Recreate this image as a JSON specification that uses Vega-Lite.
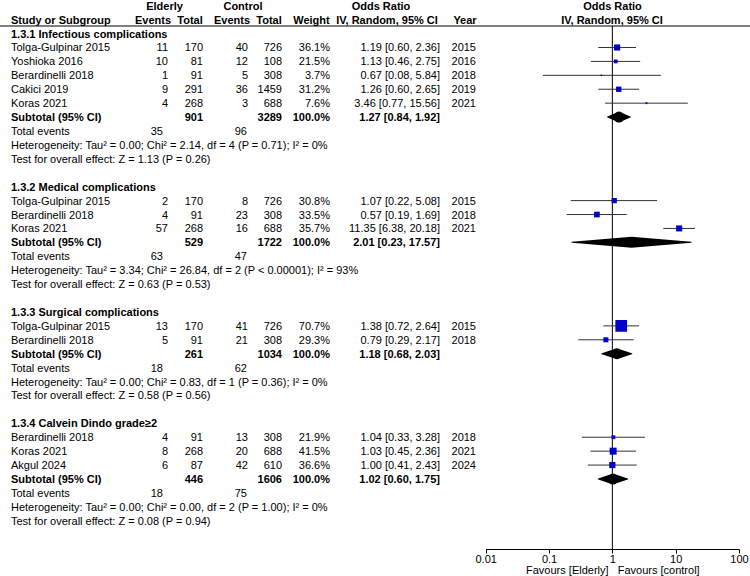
{
  "$schema": "https://vega.github.io/schema/vega-lite/v6.json",
  "width": 750,
  "height": 549,
  "autosize": {"type": "none"},
  "padding": {"left": 0, "top": 0, "right": 0, "bottom": 27},
  "background": "white",
  "config": {
    "view": {"stroke": null},
    "text": {"font": "Liberation Sans", "fontSize": 11, "color": "#000", "baseline": "middle", "dy": 1}
  },
  "datasets": {
    "studies": [
      {"sub": "1.3.1", "row": 3, "study": "Tolga-Gulpinar 2015", "ee": 11, "et": 170, "ce": 40, "ct": 726, "w": 0.361, "est": 1.19, "lo": 0.60, "hi": 2.36, "ci": "1.19 [0.60, 2.36]", "year": 2015},
      {"sub": "1.3.1", "row": 4, "study": "Yoshioka 2016", "ee": 10, "et": 81, "ce": 12, "ct": 108, "w": 0.215, "est": 1.13, "lo": 0.46, "hi": 2.75, "ci": "1.13 [0.46, 2.75]", "year": 2016},
      {"sub": "1.3.1", "row": 5, "study": "Berardinelli 2018", "ee": 1, "et": 91, "ce": 5, "ct": 308, "w": 0.037, "est": 0.67, "lo": 0.08, "hi": 5.84, "ci": "0.67 [0.08, 5.84]", "year": 2018},
      {"sub": "1.3.1", "row": 6, "study": "Cakici 2019", "ee": 9, "et": 291, "ce": 36, "ct": 1459, "w": 0.312, "est": 1.26, "lo": 0.60, "hi": 2.65, "ci": "1.26 [0.60, 2.65]", "year": 2019},
      {"sub": "1.3.1", "row": 7, "study": "Koras 2021", "ee": 4, "et": 268, "ce": 3, "ct": 688, "w": 0.076, "est": 3.46, "lo": 0.77, "hi": 15.56, "ci": "3.46 [0.77, 15.56]", "year": 2021},
      {"sub": "1.3.2", "row": 14, "study": "Tolga-Gulpinar 2015", "ee": 2, "et": 170, "ce": 8, "ct": 726, "w": 0.308, "est": 1.07, "lo": 0.22, "hi": 5.08, "ci": "1.07 [0.22, 5.08]", "year": 2015},
      {"sub": "1.3.2", "row": 15, "study": "Berardinelli 2018", "ee": 4, "et": 91, "ce": 23, "ct": 308, "w": 0.335, "est": 0.57, "lo": 0.19, "hi": 1.69, "ci": "0.57 [0.19, 1.69]", "year": 2018},
      {"sub": "1.3.2", "row": 16, "study": "Koras 2021", "ee": 57, "et": 268, "ce": 16, "ct": 688, "w": 0.357, "est": 11.35, "lo": 6.38, "hi": 20.18, "ci": "11.35 [6.38, 20.18]", "year": 2021},
      {"sub": "1.3.3", "row": 23, "study": "Tolga-Gulpinar 2015", "ee": 13, "et": 170, "ce": 41, "ct": 726, "w": 0.707, "est": 1.38, "lo": 0.72, "hi": 2.64, "ci": "1.38 [0.72, 2.64]", "year": 2015},
      {"sub": "1.3.3", "row": 24, "study": "Berardinelli 2018", "ee": 5, "et": 91, "ce": 21, "ct": 308, "w": 0.293, "est": 0.79, "lo": 0.29, "hi": 2.17, "ci": "0.79 [0.29, 2.17]", "year": 2018},
      {"sub": "1.3.4", "row": 31, "study": "Berardinelli 2018", "ee": 4, "et": 91, "ce": 13, "ct": 308, "w": 0.219, "est": 1.04, "lo": 0.33, "hi": 3.28, "ci": "1.04 [0.33, 3.28]", "year": 2018},
      {"sub": "1.3.4", "row": 32, "study": "Koras 2021", "ee": 8, "et": 268, "ce": 20, "ct": 688, "w": 0.415, "est": 1.03, "lo": 0.45, "hi": 2.36, "ci": "1.03 [0.45, 2.36]", "year": 2021},
      {"sub": "1.3.4", "row": 33, "study": "Akgul 2024", "ee": 6, "et": 87, "ce": 42, "ct": 610, "w": 0.366, "est": 1.00, "lo": 0.41, "hi": 2.43, "ci": "1.00 [0.41, 2.43]", "year": 2024}
    ],
    "subtotals": [
      {"sub": "1.3.1", "row": 8, "label": "Subtotal (95% CI)", "et": 901, "ct": 3289, "w": 1, "est": 1.27, "lo": 0.84, "hi": 1.92, "ci": "1.27 [0.84, 1.92]"},
      {"sub": "1.3.2", "row": 17, "label": "Subtotal (95% CI)", "et": 529, "ct": 1722, "w": 1, "est": 2.01, "lo": 0.23, "hi": 17.57, "ci": "2.01 [0.23, 17.57]"},
      {"sub": "1.3.3", "row": 25, "label": "Subtotal (95% CI)", "et": 261, "ct": 1034, "w": 1, "est": 1.18, "lo": 0.68, "hi": 2.03, "ci": "1.18 [0.68, 2.03]"},
      {"sub": "1.3.4", "row": 34, "label": "Subtotal (95% CI)", "et": 446, "ct": 1606, "w": 1, "est": 1.02, "lo": 0.60, "hi": 1.75, "ci": "1.02 [0.60, 1.75]"}
    ],
    "events": [
      {"row": 9, "ee": 35, "ce": 96},
      {"row": 18, "ee": 63, "ce": 47},
      {"row": 26, "ee": 18, "ce": 62},
      {"row": 35, "ee": 18, "ce": 75}
    ],
    "sections": [
      {"row": 2, "text": "1.3.1 Infectious complications"},
      {"row": 13, "text": "1.3.2 Medical complications"},
      {"row": 22, "text": "1.3.3 Surgical complications"},
      {"row": 30, "text": "1.3.4 Calvein Dindo grade≥2"}
    ],
    "notes": [
      {"row": 9, "text": "Total events"},
      {"row": 10, "text": "Heterogeneity: Tau² = 0.00; Chi² = 2.14, df = 4 (P = 0.71); I² = 0%"},
      {"row": 11, "text": "Test for overall effect: Z = 1.13 (P = 0.26)"},
      {"row": 18, "text": "Total events"},
      {"row": 19, "text": "Heterogeneity: Tau² = 3.34; Chi² = 26.84, df = 2 (P < 0.00001); I² = 93%"},
      {"row": 20, "text": "Test for overall effect: Z = 0.63 (P = 0.53)"},
      {"row": 26, "text": "Total events"},
      {"row": 27, "text": "Heterogeneity: Tau² = 0.00; Chi² = 0.83, df = 1 (P = 0.36); I² = 0%"},
      {"row": 28, "text": "Test for overall effect: Z = 0.58 (P = 0.56)"},
      {"row": 35, "text": "Total events"},
      {"row": 36, "text": "Heterogeneity: Tau² = 0.00; Chi² = 0.00, df = 2 (P = 1.00); I² = 0%"},
      {"row": 37, "text": "Test for overall effect: Z = 0.08 (P = 0.94)"}
    ]
  },
  "layer": [
    {
      "layer": [
        {"data": {"values": [{}]}, "mark": {"type": "rule", "color": "#000", "strokeWidth": 1},
         "encoding": {"x": {"value": 0}, "x2": {"value": 750},
           "y": {"datum": 1.455, "type": "quantitative", "scale": {"domain": [-0.412, 39.03], "reverse": true, "nice": false, "zero": false}, "axis": null}}},
        {"data": {"values": [{}]}, "mark": {"type": "rule", "color": "#000", "strokeWidth": 1},
         "encoding": {
           "x": {"datum": 1, "type": "quantitative", "scale": {"type": "log", "domain": [0.01, 100], "range": [485.7, 739], "nice": false, "zero": false},
                 "axis": {"values": [0.01, 0.1, 1, 10, 100], "format": "~g", "title": "Favours [Elderly]\u00a0\u00a0\u00a0Favours [control]", "grid": false, "domainColor": "#000", "tickColor": "#000", "tickSize": 4, "labelFont": "Liberation Sans", "labelFontSize": 11, "labelColor": "#000", "labelPadding": 0, "labelFlush": false, "labelOverlap": false, "titleFont": "Liberation Sans", "titleFontSize": 11, "titleFontWeight": "normal", "titleColor": "#000", "titlePadding": 0}},
           "y": {"datum": 1.455, "type": "quantitative", "scale": {"domain": [-0.412, 39.03], "reverse": true, "nice": false, "zero": false}, "axis": null},
           "y2": {"datum": 39.03}
         }}
      ]
    },
    {
      "encoding": {
        "y": {"field": "row", "type": "quantitative", "scale": {"domain": [-0.412, 39.03], "reverse": true, "nice": false, "zero": false}, "axis": null}
      },
      "layer": [
        {"data": {"values": [{"row": 0, "t": "Elderly"}]}, "mark": {"type": "text", "align": "center", "fontWeight": "bold"}, "encoding": {"x": {"value": 164.5}, "text": {"field": "t"}}},
        {"data": {"values": [{"row": 0, "t": "Control"}]}, "mark": {"type": "text", "align": "center", "fontWeight": "bold"}, "encoding": {"x": {"value": 243}, "text": {"field": "t"}}},
        {"data": {"values": [{"row": 0, "t": "Odds Ratio"}]}, "mark": {"type": "text", "align": "center", "fontWeight": "bold"}, "encoding": {"x": {"value": 381}, "text": {"field": "t"}}},
        {"data": {"values": [{"row": 0, "t": "Odds Ratio"}]}, "mark": {"type": "text", "align": "center", "fontWeight": "bold"}, "encoding": {"x": {"value": 612.5}, "text": {"field": "t"}}},
        {"data": {"values": [{"row": 1, "t": "Study or Subgroup"}]}, "mark": {"type": "text", "align": "left", "fontWeight": "bold"}, "encoding": {"x": {"value": 11}, "text": {"field": "t"}}},
        {"data": {"values": [{"row": 1, "t": "Events"}]}, "mark": {"type": "text", "align": "center", "fontWeight": "bold"}, "encoding": {"x": {"value": 153}, "text": {"field": "t"}}},
        {"data": {"values": [{"row": 1, "t": "Total"}]}, "mark": {"type": "text", "align": "center", "fontWeight": "bold"}, "encoding": {"x": {"value": 190}, "text": {"field": "t"}}},
        {"data": {"values": [{"row": 1, "t": "Events"}]}, "mark": {"type": "text", "align": "center", "fontWeight": "bold"}, "encoding": {"x": {"value": 232}, "text": {"field": "t"}}},
        {"data": {"values": [{"row": 1, "t": "Total"}]}, "mark": {"type": "text", "align": "center", "fontWeight": "bold"}, "encoding": {"x": {"value": 269}, "text": {"field": "t"}}},
        {"data": {"values": [{"row": 1, "t": "Weight"}]}, "mark": {"type": "text", "align": "center", "fontWeight": "bold"}, "encoding": {"x": {"value": 311.5}, "text": {"field": "t"}}},
        {"data": {"values": [{"row": 1, "t": "IV, Random, 95% CI"}]}, "mark": {"type": "text", "align": "center", "fontWeight": "bold"}, "encoding": {"x": {"value": 387}, "text": {"field": "t"}}},
        {"data": {"values": [{"row": 1, "t": "Year"}]}, "mark": {"type": "text", "align": "center", "fontWeight": "bold"}, "encoding": {"x": {"value": 465}, "text": {"field": "t"}}},
        {"data": {"values": [{"row": 1, "t": "IV, Random, 95% CI"}]}, "mark": {"type": "text", "align": "center", "fontWeight": "bold"}, "encoding": {"x": {"value": 612}, "text": {"field": "t"}}},

        {"data": {"name": "sections"}, "mark": {"type": "text", "align": "left", "fontWeight": "bold"}, "encoding": {"x": {"value": 11}, "text": {"field": "text"}}},
        {"data": {"name": "notes"}, "mark": {"type": "text", "align": "left"}, "encoding": {"x": {"value": 11}, "text": {"field": "text"}}},

        {"data": {"name": "studies"}, "mark": {"type": "text", "align": "left"}, "encoding": {"x": {"value": 11}, "text": {"field": "study"}}},
        {"data": {"name": "studies"}, "mark": {"type": "text", "align": "right"}, "encoding": {"x": {"value": 168}, "text": {"field": "ee", "type": "nominal"}}},
        {"data": {"name": "studies"}, "mark": {"type": "text", "align": "right"}, "encoding": {"x": {"value": 203}, "text": {"field": "et", "type": "nominal"}}},
        {"data": {"name": "studies"}, "mark": {"type": "text", "align": "right"}, "encoding": {"x": {"value": 248}, "text": {"field": "ce", "type": "nominal"}}},
        {"data": {"name": "studies"}, "mark": {"type": "text", "align": "right"}, "encoding": {"x": {"value": 282}, "text": {"field": "ct", "type": "nominal"}}},
        {"data": {"name": "studies"}, "mark": {"type": "text", "align": "right"}, "encoding": {"x": {"value": 330}, "text": {"field": "w", "type": "quantitative", "format": ".1%"}}},
        {"data": {"name": "studies"}, "mark": {"type": "text", "align": "right"}, "encoding": {"x": {"value": 440}, "text": {"field": "ci", "type": "nominal"}}},
        {"data": {"name": "studies"}, "mark": {"type": "text", "align": "right"}, "encoding": {"x": {"value": 476}, "text": {"field": "year", "type": "nominal"}}},

        {"data": {"name": "subtotals"}, "mark": {"type": "text", "align": "left", "fontWeight": "bold"}, "encoding": {"x": {"value": 11}, "text": {"field": "label"}}},
        {"data": {"name": "subtotals"}, "mark": {"type": "text", "align": "right", "fontWeight": "bold"}, "encoding": {"x": {"value": 203}, "text": {"field": "et", "type": "nominal"}}},
        {"data": {"name": "subtotals"}, "mark": {"type": "text", "align": "right", "fontWeight": "bold"}, "encoding": {"x": {"value": 282}, "text": {"field": "ct", "type": "nominal"}}},
        {"data": {"name": "subtotals"}, "mark": {"type": "text", "align": "right", "fontWeight": "bold"}, "encoding": {"x": {"value": 330}, "text": {"field": "w", "type": "quantitative", "format": ".1%"}}},
        {"data": {"name": "subtotals"}, "mark": {"type": "text", "align": "right", "fontWeight": "bold"}, "encoding": {"x": {"value": 440}, "text": {"field": "ci", "type": "nominal"}}},

        {"data": {"name": "events"}, "mark": {"type": "text", "align": "right"}, "encoding": {"x": {"value": 163}, "text": {"field": "ee", "type": "nominal"}}},
        {"data": {"name": "events"}, "mark": {"type": "text", "align": "right"}, "encoding": {"x": {"value": 247}, "text": {"field": "ce", "type": "nominal"}}}
      ]
    },
    {
      "resolve": {"scale": {"size": "independent"}},
      "encoding": {
        "y": {"field": "row", "type": "quantitative", "scale": {"domain": [-0.412, 39.03], "reverse": true, "nice": false, "zero": false}, "axis": null}
      },
      "layer": [
        {"data": {"name": "studies"}, "mark": {"type": "rule", "color": "#333", "strokeWidth": 1},
         "encoding": {
           "x": {"field": "lo", "type": "quantitative", "scale": {"type": "log", "domain": [0.01, 100], "range": [485.7, 739], "nice": false, "zero": false},
                 "axis": {"values": [0.01, 0.1, 1, 10, 100], "format": "~g", "title": "Favours [Elderly]\u00a0\u00a0\u00a0Favours [control]", "grid": false, "domainColor": "#000", "tickColor": "#000", "tickSize": 4, "labelFont": "Liberation Sans", "labelFontSize": 11, "labelColor": "#000", "labelPadding": 0, "labelFlush": false, "labelOverlap": false, "titleFont": "Liberation Sans", "titleFontSize": 11, "titleFontWeight": "normal", "titleColor": "#000", "titlePadding": 0}},
           "x2": {"field": "hi"}
         }},
        {"data": {"name": "studies"}, "mark": {"type": "point", "shape": "square", "filled": true, "color": "#0000c8", "opacity": 1, "strokeWidth": 0},
         "encoding": {
           "x": {"field": "est", "type": "quantitative", "scale": {"type": "log", "domain": [0.01, 100], "range": [485.7, 739], "nice": false, "zero": false},
                 "axis": {"values": [0.01, 0.1, 1, 10, 100], "format": "~g", "title": "Favours [Elderly]\u00a0\u00a0\u00a0Favours [control]", "grid": false, "domainColor": "#000", "tickColor": "#000", "tickSize": 4, "labelFont": "Liberation Sans", "labelFontSize": 11, "labelColor": "#000", "labelPadding": 0, "labelFlush": false, "labelOverlap": false, "titleFont": "Liberation Sans", "titleFontSize": 11, "titleFontWeight": "normal", "titleColor": "#000", "titlePadding": 0}},
           "size": {"field": "w", "type": "quantitative", "scale": {"type": "pow", "exponent": 2, "domain": [0, 1], "range": [2, 272]}, "legend": null}
         }},
        {"data": {"name": "subtotals"}, "transform": [{"fold": ["lo", "est", "hi"], "as": ["k", "v"]}],
         "mark": {"type": "trail", "color": "#000"},
         "encoding": {
           "x": {"field": "v", "type": "quantitative", "scale": {"type": "log", "domain": [0.01, 100], "range": [485.7, 739], "nice": false, "zero": false},
                 "axis": {"values": [0.01, 0.1, 1, 10, 100], "format": "~g", "title": "Favours [Elderly]\u00a0\u00a0\u00a0Favours [control]", "grid": false, "domainColor": "#000", "tickColor": "#000", "tickSize": 4, "labelFont": "Liberation Sans", "labelFontSize": 11, "labelColor": "#000", "labelPadding": 0, "labelFlush": false, "labelOverlap": false, "titleFont": "Liberation Sans", "titleFontSize": 11, "titleFontWeight": "normal", "titleColor": "#000", "titlePadding": 0}},
           "size": {"field": "k", "type": "ordinal", "scale": {"type": "ordinal", "domain": ["lo", "est", "hi"], "range": [0, 11, 0]}, "legend": null},
           "detail": {"field": "sub"},
           "order": {"field": "v", "type": "quantitative"}
         }}
      ]
    }
  ]
}
